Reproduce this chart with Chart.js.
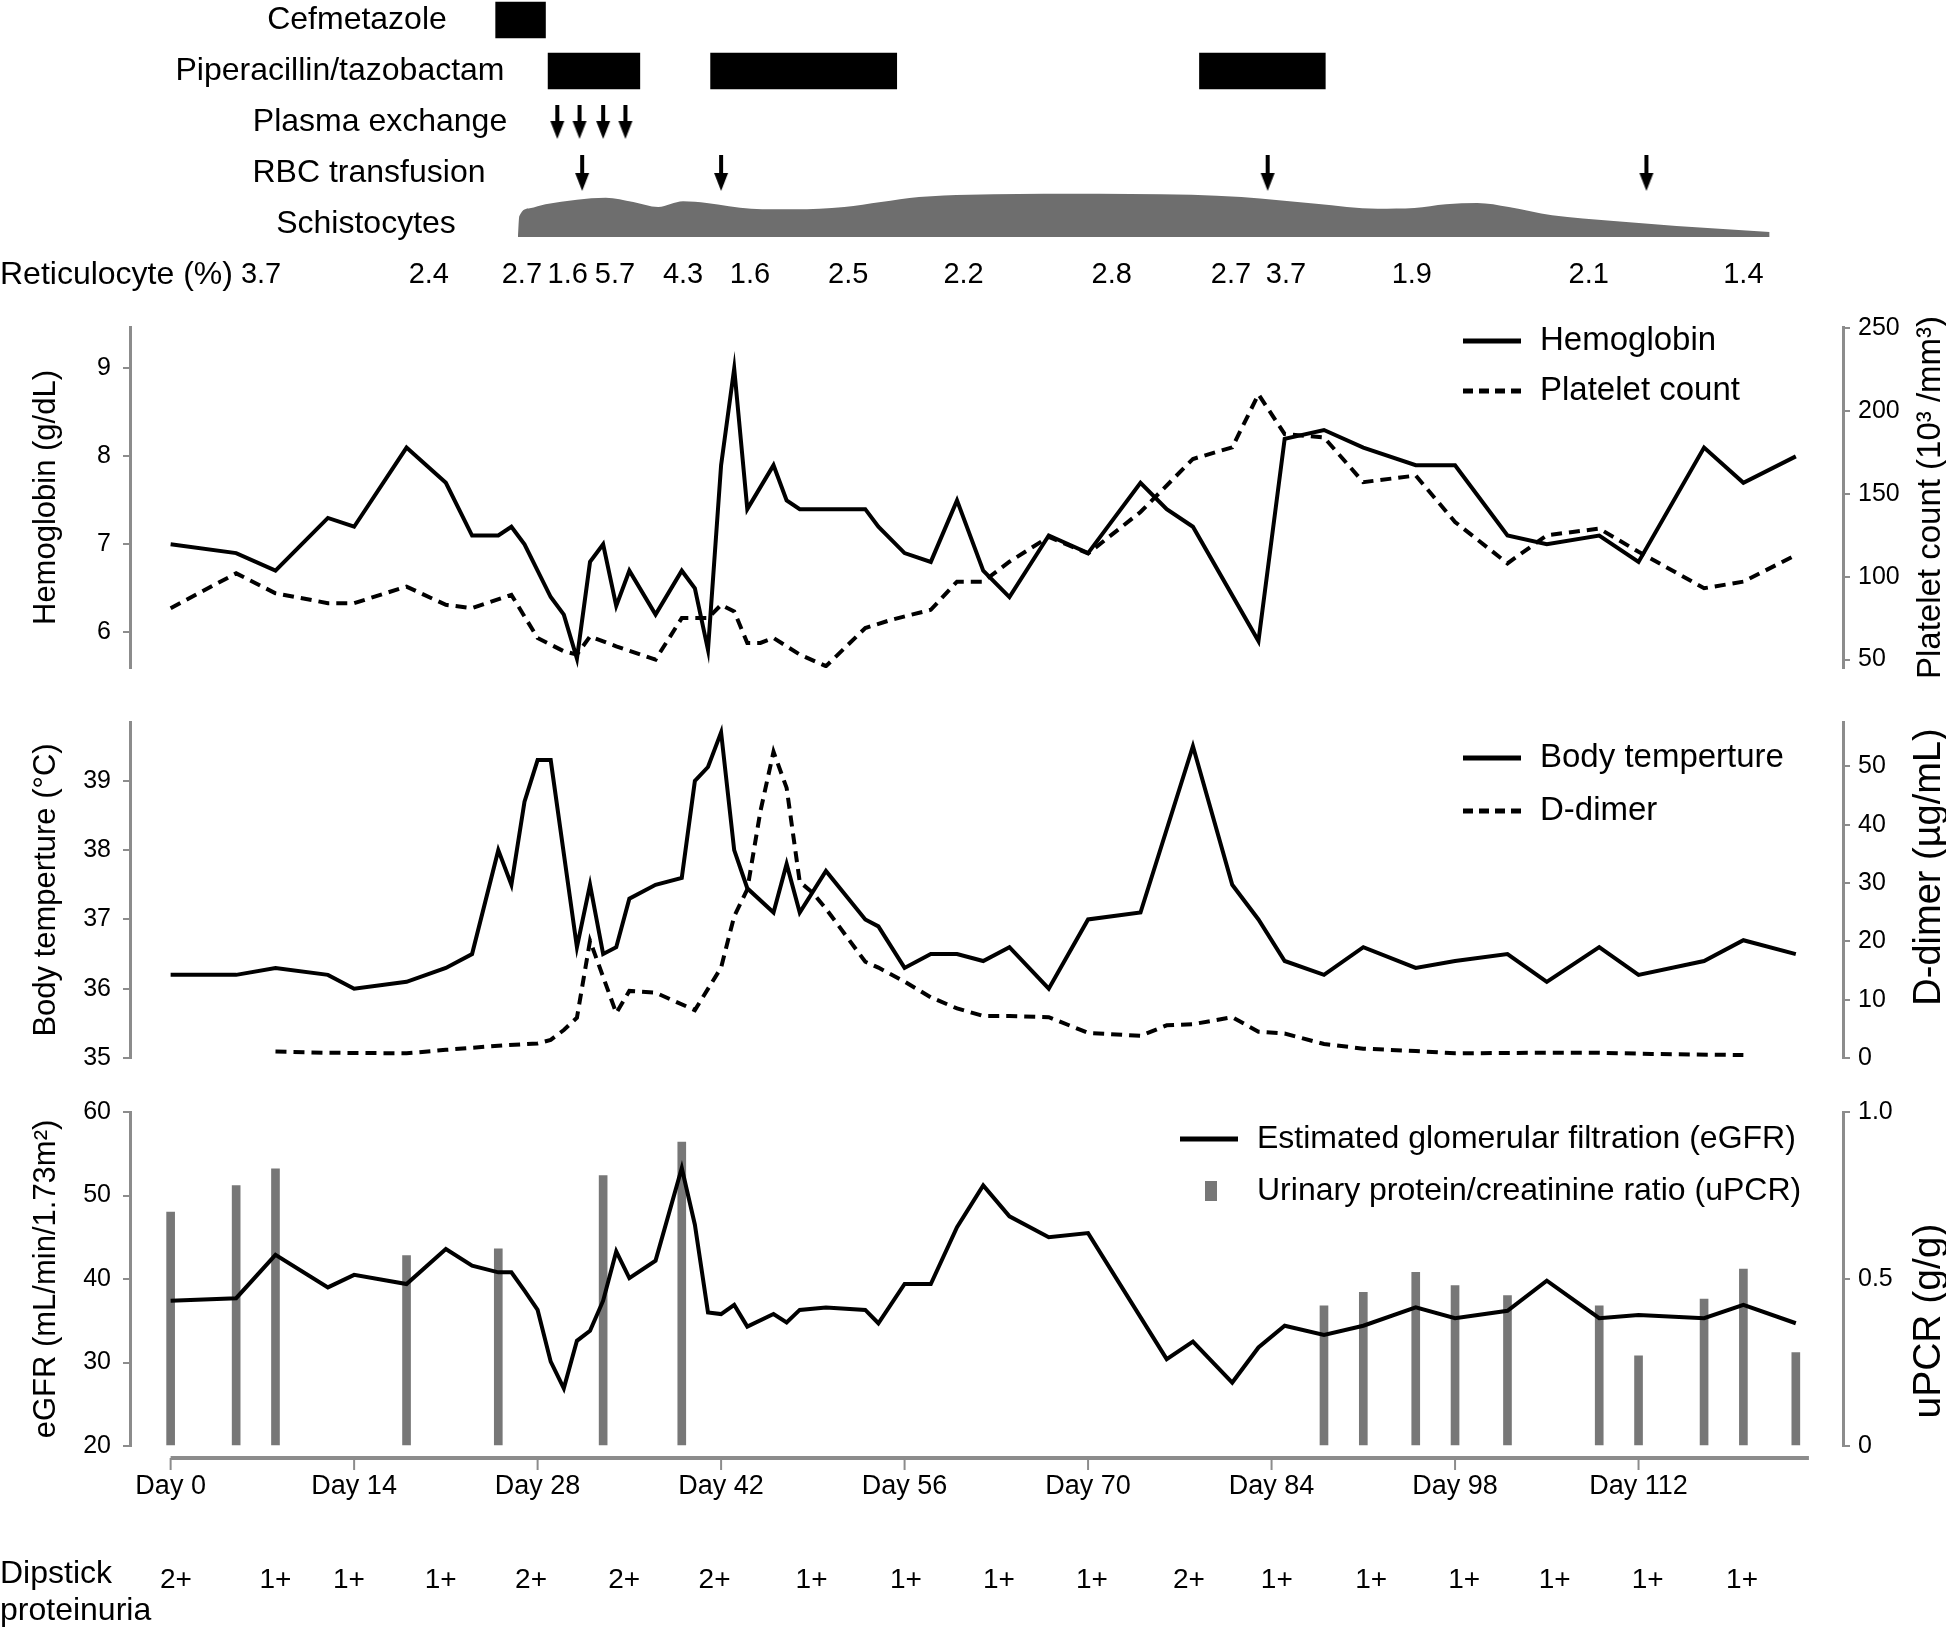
<!DOCTYPE html>
<html>
<head>
<meta charset="utf-8">
<script src="https://cdn.jsdelivr.net/npm/chart.js@4.4.1/dist/chart.umd.min.js"></script>
<style>
  html, body { margin: 0; padding: 0; background: #fff; }
  #wrap { position: relative; width: 1946px; height: 1630px; }
  #wrap canvas { position: absolute; left: 0; }
</style>
</head>
<body>
<div id="wrap">
  <canvas id="events" width="1946" height="300" style="top:0px"></canvas>
  <canvas id="blood" width="1946" height="395" style="top:300px"></canvas>
  <canvas id="fever" width="1946" height="390" style="top:695px"></canvas>
  <canvas id="renal" width="1946" height="545" style="top:1085px"></canvas>
</div>
<script>
// ---- data (days since admission) ----
var X_MIN = -3.1, X_MAX = 127.6;
var DAY_TICKS = [0, 14, 28, 42, 56, 70, 84, 98, 112];

var rowLabels = ['Cefmetazole', 'Piperacillin/tazobactam', 'Plasma exchange', 'RBC transfusion', 'Schistocytes', 'Reticulocyte (%)'];
var cefmetazoleCourses = [[24.8, 28.6]];
var piperacillinCourses = [[28.8, 35.8], [41.2, 55.4], [78.5, 88.1]];
var plasmaExchangeDays = [29.5, 31.2, 33.0, 34.7];
var rbcTransfusionDays = [31.4, 42.0, 83.7, 112.6];

// relative amount of schistocytes (outline of the grey band)
var schistoDays = [26.5, 26.6, 27.4, 28.6, 31.0, 33.2, 35.3, 37.2, 39.1, 40.9, 44.3, 47.6, 51.4, 54.2, 57.1, 60.9, 68.5, 77.9, 81.7, 87.4, 92.1, 94.9, 97.3, 99.7, 102.1, 105.4, 110.1, 114.9, 122.0];
var schistoLevel = [0, 62, 86, 98, 112, 118, 105, 90, 107, 102, 85, 83, 90, 105, 120, 127, 130, 127, 120, 100, 85, 87, 98, 102, 90, 65, 48, 33, 15];

var reticDays = [6.9, 19.7, 26.8, 30.3, 33.9, 39.1, 44.2, 51.7, 60.5, 71.8, 80.9, 85.1, 94.7, 108.2, 120.0];
var reticValues = ['3.7', '2.4', '2.7', '1.6', '5.7', '4.3', '1.6', '2.5', '2.2', '2.8', '2.7', '3.7', '1.9', '2.1', '1.4'];

var hbDays = [0, 5, 8, 12, 14, 18, 21, 23, 25, 26, 27, 29, 30, 31, 32, 33, 34, 35, 37, 39, 40, 41, 42, 43, 44, 46, 47, 48, 53, 54, 56, 58, 60, 62, 64, 67, 70, 74, 76, 78, 83, 85, 88, 91, 95, 98, 102, 105, 109, 112, 117, 120, 124];
var hbValues = [7.0, 6.9, 6.7, 7.3, 7.2, 8.1, 7.7, 7.1, 7.1, 7.2, 7.0, 6.4, 6.2, 5.7, 6.8, 7.0, 6.3, 6.7, 6.2, 6.7, 6.5, 5.8, 7.9, 9.0, 7.4, 7.9, 7.5, 7.4, 7.4, 7.2, 6.9, 6.8, 7.5, 6.7, 6.4, 7.1, 6.9, 7.7, 7.4, 7.2, 5.9, 8.2, 8.3, 8.1, 7.9, 7.9, 7.1, 7.0, 7.1, 6.8, 8.1, 7.7, 8.0];

var pltDays = [0, 5, 8, 12, 14, 18, 21, 23, 26, 28, 30, 31, 32, 34, 37, 39, 41, 42, 43, 44, 45, 46, 48, 50, 53, 55, 58, 60, 62, 64, 67, 70, 74, 78, 81, 83, 85, 88, 91, 95, 98, 102, 105, 109, 112, 117, 120, 124];
var pltValues = [81, 102, 90, 84, 84, 94, 83, 81, 89, 63, 55, 53, 64, 58, 50, 75, 75, 83, 79, 60, 60, 63, 53, 46, 69, 74, 80, 97, 97, 109, 124, 114, 139, 171, 178, 210, 186, 184, 157, 161, 133, 108, 125, 129, 115, 93, 97, 113];

var tempDays = [0, 5, 8, 12, 14, 18, 21, 23, 25, 26, 27, 28, 29, 31, 32, 33, 34, 35, 37, 39, 40, 41, 42, 43, 44, 46, 47, 48, 50, 53, 54, 56, 58, 60, 62, 64, 67, 70, 74, 78, 81, 83, 85, 88, 91, 95, 98, 102, 105, 109, 112, 117, 120, 124];
var tempValues = [36.2, 36.2, 36.3, 36.2, 36.0, 36.1, 36.3, 36.5, 38.0, 37.5, 38.7, 39.3, 39.3, 36.6, 37.5, 36.5, 36.6, 37.3, 37.5, 37.6, 39.0, 39.2, 39.7, 38.0, 37.45, 37.1, 37.8, 37.1, 37.7, 37.0, 36.9, 36.3, 36.5, 36.5, 36.4, 36.6, 36.0, 37.0, 37.1, 39.5, 37.5, 37.0, 36.4, 36.2, 36.6, 36.3, 36.4, 36.5, 36.1, 36.6, 36.2, 36.4, 36.7, 36.5];

var ddimerDays = [8, 12, 18, 21, 25, 28, 29, 30, 31, 32, 34, 35, 37, 40, 42, 43, 44, 45, 46, 47, 48, 49, 50, 53, 54, 56, 58, 60, 62, 64, 67, 70, 74, 76, 78, 81, 83, 85, 88, 91, 95, 98, 105, 109, 113, 120];
var ddimerValues = [1.1, 0.9, 0.8, 1.4, 2.1, 2.5, 3.1, 4.8, 6.9, 20.1, 7.7, 11.5, 11.2, 8.2, 15.5, 24.3, 28.9, 42.3, 52.5, 46.3, 30.2, 28.3, 25.6, 16.5, 15.5, 13.1, 10.4, 8.5, 7.2, 7.2, 7.0, 4.3, 3.8, 5.6, 5.8, 7.0, 4.5, 4.2, 2.4, 1.6, 1.2, 0.8, 0.9, 0.9, 0.7, 0.5];

var egfrDays = [0, 5, 8, 12, 14, 18, 21, 23, 25, 26, 27, 28, 29, 30, 31, 32, 33, 34, 35, 37, 39, 40, 41, 42, 43, 44, 46, 47, 48, 50, 53, 54, 56, 58, 60, 62, 64, 67, 70, 76, 78, 81, 83, 85, 88, 91, 95, 98, 102, 105, 109, 112, 117, 120, 124];
var egfrValues = [37.4, 37.7, 42.9, 39.0, 40.5, 39.4, 43.6, 41.6, 40.8, 40.8, 38.6, 36.3, 30.1, 26.9, 32.6, 33.8, 37.4, 43.3, 40.1, 42.2, 53.3, 46.5, 36.0, 35.8, 36.9, 34.3, 35.8, 34.8, 36.3, 36.6, 36.3, 34.7, 39.4, 39.4, 46.2, 51.2, 47.5, 45.0, 45.5, 30.4, 32.5, 27.6, 31.8, 34.4, 33.3, 34.4, 36.6, 35.3, 36.2, 39.8, 35.3, 35.7, 35.3, 36.9, 34.7];

var upcrDays = [0, 5, 8, 18, 25, 33, 39, 88, 91, 95, 98, 102, 109, 112, 117, 120, 124];
var upcrValues = [0.70, 0.78, 0.83, 0.57, 0.59, 0.81, 0.91, 0.42, 0.46, 0.52, 0.48, 0.45, 0.42, 0.27, 0.44, 0.53, 0.28];

var dipDays = [0.4, 8.0, 13.6, 20.6, 27.5, 34.6, 41.5, 48.9, 56.1, 63.2, 70.3, 77.7, 84.4, 91.6, 98.7, 105.6, 112.7, 119.9];
var dipValues = ['2+', '1+', '1+', '1+', '2+', '2+', '2+', '1+', '1+', '1+', '1+', '2+', '1+', '1+', '1+', '1+', '1+', '1+'];

// ---- shared styling ----
var FONT = '"Liberation Sans", Arial, Helvetica, sans-serif';
var AXIS_GRAY = '#8c8c8c';
var DASH = [11, 7];
var LABEL_CENTERS = [357, 340, 380, 369, 366];   // x centre of each row caption
Chart.defaults.font.family = FONT;
Chart.defaults.color = '#000';

function pts(xs, ys) {
  return xs.map(function (x, i) { return { x: x, y: ys[i] }; });
}

function arrowMarker(h) {
  var c = document.createElement('canvas');
  c.width = 16; c.height = h;
  var g = c.getContext('2d');
  g.fillStyle = '#000';
  g.fillRect(6, 0, 4, h - 14);
  g.beginPath();
  g.moveTo(1, h - 18); g.lineTo(15, h - 18); g.lineTo(8, h);
  g.closePath(); g.fill();
  return c;
}

function hiddenX() {
  return { type: 'linear', min: X_MIN, max: X_MAX, offset: false, display: false };
}

function leftAxis(min, max, step, title) {
  return {
    type: 'linear', position: 'left', min: min, max: max,
    afterFit: function (s) { s.width = 102; },
    border: { color: AXIS_GRAY, width: 3 },
    grid: { drawOnChartArea: false, tickLength: 7, color: AXIS_GRAY, lineWidth: 2 },
    ticks: { stepSize: step, includeBounds: false, padding: 12, font: { size: 25 } },
    title: { display: true, text: title, font: { size: 31 }, padding: 0 }
  };
}

function rightAxis(min, max, step, fmt) {
  var ax = {
    type: 'linear', position: 'right', min: min, max: max,
    afterFit: function (s) { s.width = 103; },
    border: { color: AXIS_GRAY, width: 3 },
    grid: { drawOnChartArea: false, tickLength: 7, color: AXIS_GRAY, lineWidth: 2 },
    ticks: { stepSize: step, includeBounds: false, padding: 8, font: { size: 25 } }
  };
  if (fmt) ax.ticks.callback = fmt;
  return ax;
}

function lineSet(label, xs, ys, axis, dashed) {
  return {
    type: 'line', label: label, data: pts(xs, ys), yAxisID: axis,
    borderColor: '#000', borderWidth: 4, borderDash: dashed ? DASH : [],
    pointRadius: 0, tension: 0, fill: false
  };
}

// legend drawn inside the plot, top right
var insideLegend = {
  id: 'insideLegend',
  afterDraw: function (chart, args, opts) {
    var ctx = chart.ctx, top = chart.chartArea.top;
    ctx.save();
    ctx.font = opts.size + 'px ' + FONT;
    ctx.textBaseline = 'middle';
    chart.data.datasets.forEach(function (ds, i) {
      var y = top + opts.top + i * opts.gap, x = opts.left;
      if (ds.type === 'bar') {
        ctx.fillStyle = ds.backgroundColor;
        ctx.fillRect(x + 25, y - 10, 12, 20);
      } else {
        ctx.strokeStyle = ds.borderColor;
        ctx.lineWidth = 5;
        ctx.setLineDash(ds.borderDash && ds.borderDash.length ? [10, 6] : []);
        ctx.beginPath(); ctx.moveTo(x, y); ctx.lineTo(x + 58, y); ctx.stroke();
        ctx.setLineDash([]);
      }
      ctx.fillStyle = '#000';
      ctx.fillText(ds.label, x + 77, y);
    });
    ctx.restore();
  }
};

// right axis titles read bottom-to-top like the left ones
var rightTitle = {
  id: 'rightTitle',
  afterDraw: function (chart, args, opts) {
    var ctx = chart.ctx, a = chart.chartArea;
    ctx.save();
    ctx.translate(chart.width - 6, (a.top + a.bottom) / 2 + (opts.shift || 0));
    ctx.rotate(-Math.PI / 2);
    ctx.font = opts.size + 'px ' + FONT;
    ctx.fillStyle = '#000';
    ctx.textAlign = 'center';
    ctx.textBaseline = 'alphabetic';
    ctx.fillText(opts.text, 0, 0);
    ctx.restore();
  }
};

var eventLabels = {
  id: 'eventLabels',
  afterDraw: function (chart) {
    var ctx = chart.ctx, ys = chart.scales.y, xs = chart.scales.x;
    var last = rowLabels.length - 1;
    ctx.save();
    ctx.fillStyle = '#000';
    ctx.textBaseline = 'middle';
    ctx.font = '32px ' + FONT;
    ctx.textAlign = 'center';
    for (var i = 0; i < last; i++) ctx.fillText(rowLabels[i], LABEL_CENTERS[i], ys.getPixelForValue(i));
    ctx.textAlign = 'left';
    ctx.fillText(rowLabels[last], 0, ys.getPixelForValue(last));
    ctx.textAlign = 'center';
    ctx.font = '29px ' + FONT;
    reticDays.forEach(function (d, i) {
      ctx.fillText(reticValues[i], xs.getPixelForValue(d), ys.getPixelForValue(last));
    });
    ctx.restore();
  }
};

var dayAxis = {
  id: 'dayAxis',
  afterDraw: function (chart, args, opts) {
    var ctx = chart.ctx, xs = chart.scales.x, base = chart.chartArea.bottom;
    var y0 = base + 12;
    ctx.save();
    ctx.strokeStyle = AXIS_GRAY;
    ctx.lineWidth = 4;
    ctx.beginPath(); ctx.moveTo(xs.getPixelForValue(0), y0); ctx.lineTo(xs.getPixelForValue(opts.end), y0); ctx.stroke();
    ctx.lineWidth = 2;
    xs.ticks.forEach(function (t) {
      var px = xs.getPixelForValue(t.value);
      ctx.beginPath(); ctx.moveTo(px, y0); ctx.lineTo(px, y0 + 12); ctx.stroke();
    });
    ctx.fillStyle = '#000';
    ctx.textBaseline = 'middle';
    ctx.font = '32px ' + FONT;
    ctx.textAlign = 'left';
    ctx.fillText('Dipstick', 0, base + 128);
    ctx.fillText('proteinuria', 0, base + 165);
    ctx.textAlign = 'center';
    ctx.font = '28px ' + FONT;
    dipDays.forEach(function (d, i) { ctx.fillText(dipValues[i], xs.getPixelForValue(d), base + 134); });
    ctx.restore();
  }
};

var common = { responsive: false, animation: false, events: [], devicePixelRatio: 1 };
function opts(extra) { return Object.assign({}, common, extra); }

window.onload = function () {
  // treatments, events, schistocytes, reticulocytes
  var courses = cefmetazoleCourses.map(function (c) { return { x: c, y: rowLabels[0] }; })
    .concat(piperacillinCourses.map(function (c) { return { x: c, y: rowLabels[1] }; }));
  new Chart(document.getElementById('events'), {
    type: 'line',
    data: {
      datasets: [{
        type: 'bar', indexAxis: 'y', data: courses, xAxisID: 'x', yAxisID: 'y',
        backgroundColor: '#000', barThickness: 36, clip: false
      }, {
        type: 'scatter', data: plasmaExchangeDays.map(function (d) { return { x: d, y: rowLabels[2] }; }),
        xAxisID: 'x', yAxisID: 'y', pointStyle: arrowMarker(34), pointRadius: 5, clip: false
      }, {
        type: 'scatter', data: rbcTransfusionDays.map(function (d) { return { x: d, y: rowLabels[3] }; }),
        xAxisID: 'x', yAxisID: 'y', pointStyle: arrowMarker(36), pointRadius: 5, clip: false
      }, {
        type: 'line', data: pts(schistoDays, schistoLevel), xAxisID: 'x', yAxisID: 'ys',
        fill: 'origin', backgroundColor: '#6e6e6e', borderWidth: 0, pointRadius: 0,
        cubicInterpolationMode: 'monotone'
      }]
    },
    options: opts({
      layout: { padding: { left: 130, right: 103, top: 20, bottom: 25 } },
      scales: {
        x: hiddenX(),
        y: { type: 'category', labels: rowLabels, offset: false, display: false },
        ys: { type: 'linear', min: -114, max: 651, display: false }
      },
      plugins: { legend: { display: false }, tooltip: { enabled: false } }
    }),
    plugins: [eventLabels]
  });

  new Chart(document.getElementById('blood'), {
    type: 'line',
    data: {
      datasets: [
        lineSet('Hemoglobin', hbDays, hbValues, 'y', false),
        lineSet('Platelet count', pltDays, pltValues, 'y1', true)
      ]
    },
    options: opts({
      layout: { padding: { left: 28, right: 0, top: 24, bottom: 9 } },
      scales: {
        x: hiddenX(),
        y: leftAxis(5.593, 9.472, 1, 'Hemoglobin (g/dL)'),
        y1: rightAxis(44.9, 250.6, 50)
      },
      plugins: {
        legend: { display: false }, tooltip: { enabled: false },
        insideLegend: { left: 1463, top: 14, gap: 50, size: 33 },
        rightTitle: { text: 'Platelet count (10\u00b3 /mm\u00b3)', size: 33 }
      }
    }),
    plugins: [insideLegend, rightTitle]
  });

  new Chart(document.getElementById('fever'), {
    type: 'line',
    data: {
      datasets: [
        lineSet('Body temperture', tempDays, tempValues, 'y', false),
        lineSet('D-dimer', ddimerDays, ddimerValues, 'y1', true)
      ]
    },
    options: opts({
      layout: { padding: { left: 28, right: 0, top: 8, bottom: 24 } },
      scales: {
        x: hiddenX(),
        y: leftAxis(35, 39.85, 1, 'Body temperture (\u00b0C)'),
        y1: rightAxis(0, 57.6, 10)
      },
      plugins: {
        legend: { display: false }, tooltip: { enabled: false },
        insideLegend: { left: 1463, top: 36, gap: 53, size: 33 },
        rightTitle: { text: 'D-dimer (\u00b5g/mL)', size: 38, shift: -23 }
      }
    }),
    plugins: [insideLegend, rightTitle]
  });

  new Chart(document.getElementById('renal'), {
    type: 'line',
    data: {
      datasets: [
        lineSet('Estimated glomerular filtration (eGFR)', egfrDays, egfrValues, 'y', false),
        {
          type: 'bar', label: 'Urinary protein/creatinine ratio (uPCR)', data: pts(upcrDays, upcrValues),
          yAxisID: 'y1', backgroundColor: '#777777', barThickness: 8
        }
      ]
    },
    options: opts({
      layout: { padding: { left: 28, right: 0, top: 9, bottom: 0 } },
      scales: {
        x: {
          type: 'linear', min: X_MIN, max: X_MAX, offset: false,
          afterBuildTicks: function (s) { s.ticks = DAY_TICKS.map(function (v) { return { value: v }; }); },
          afterFit: function (s) { s.height = 184; },
          border: { display: false },
          grid: { display: false, drawTicks: false, offset: false },
          ticks: {
            padding: 24, autoSkip: false, maxRotation: 0, font: { size: 27 },
            callback: function (v) { return 'Day ' + v; }
          }
        },
        y: leftAxis(20, 60, 10, 'eGFR (mL/min/1.73m\u00b2)'),
        y1: rightAxis(0, 1, 0.5, function (v) { return v === 0 ? '0' : v.toFixed(1); })
      },
      plugins: {
        legend: { display: false }, tooltip: { enabled: false },
        insideLegend: { left: 1180, top: 27, gap: 52, size: 32 },
        rightTitle: { text: 'uPCR (g/g)', size: 39, shift: 42 },
        dayAxis: { end: 125 }
      }
    }),
    plugins: [insideLegend, rightTitle, dayAxis]
  });
};
</script>
</body>
</html>
